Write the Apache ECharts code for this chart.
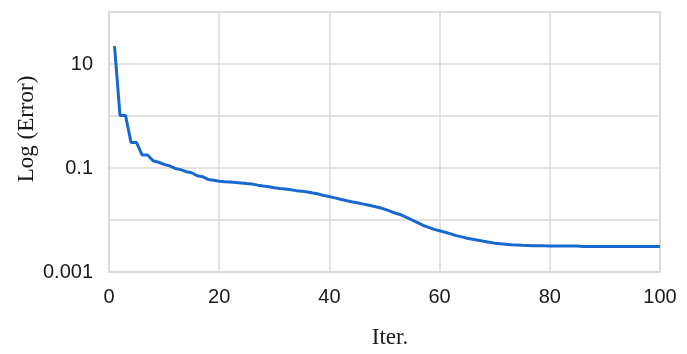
<!DOCTYPE html>
<html>
<head>
<meta charset="utf-8">
<script src="https://cdn.jsdelivr.net/npm/echarts@6/dist/echarts.min.js"></script>
<style>html,body{margin:0;padding:0;background:#fff}#c{width:687px;height:354px}</style>
</head>
<body>
<div id="c"></div>
<script>
// Iteration numbers
const iterations = [1,2,3,4,5,6,7,8,9,10,11,12,13,14,15,16,17,18,19,20,
  21,22,23,24,25,26,27,28,29,30,31,32,33,34,35,36,37,38,39,40,
  41,42,43,44,45,46,47,48,49,50,51,52,53,54,55,56,57,58,59,60,
  61,62,63,64,65,66,67,68,69,70,71,72,73,74,75,76,77,78,79,80,
  81,82,83,84,85,86,87,88,89,90,91,92,93,94,95,96,97,98,99,100];
// Error values (log scale)
const errorValues = [22.1,1.02,1.02,0.309,0.309,0.178,0.178,0.138,0.129,0.117,
  0.110,0.098,0.093,0.085,0.081,0.071,0.068,0.060,0.058,0.0556,
  0.0543,0.0537,0.0525,0.0513,0.0501,0.0490,0.0468,0.0452,0.0437,0.0417,
  0.0403,0.0394,0.0380,0.0367,0.0359,0.0347,0.0331,0.0316,0.0295,0.0282,
  0.0266,0.0251,0.0237,0.0224,0.0214,0.0204,0.0195,0.0184,0.0174,0.0162,
  0.0148,0.0135,0.0126,0.0112,0.0100,0.0089,0.0079,0.0072,0.0066,0.0062,
  0.0058,0.0054,0.0050,0.00473,0.00447,0.00427,0.00407,0.00389,0.00372,0.00359,
  0.00351,0.00343,0.00335,0.00331,0.00327,0.00324,0.00321,0.00320,0.00318,0.00317,
  0.00317,0.00317,0.00317,0.00317,0.00317,0.00310,0.00310,0.00310,0.00310,0.00310,
  0.00310,0.00310,0.00310,0.00310,0.00310,0.00310,0.00310,0.00310,0.00310,0.00310];
const yTickLabels = ['0.001','0.1','10'];
const xTickLabels = ['0','20','40','60','80','100'];

const seriesData = iterations.map((x, i) => [x, errorValues[i]]);
const gridColor = '#d9d9d9';

const chart = echarts.init(document.getElementById('c'));
chart.setOption({
  animation: false,
  grid: { left: 109, right: 27, top: 12, bottom: 77, show: true, borderColor: gridColor, borderWidth: 1.5 },
  xAxis: {
    type: 'value', min: 0, max: 100, interval: 20,
    name: 'Iter.', nameLocation: 'middle', nameGap: 54, nameMoveOverlap: false,
    nameTextStyle: { fontFamily: 'Liberation Serif', fontSize: 23, color: '#1a1a1a', padding: [0,0,0,11] },
    axisLine: { lineStyle: { color: gridColor, width: 1.5 } },
    axisTick: { show: false },
    splitLine: { lineStyle: { color: gridColor, width: 1.5 } },
    axisLabel: { fontFamily: 'Liberation Sans', fontSize: 20, color: '#1a1a1a', margin: 15,
      formatter: v => { const s = String(Math.round(v)); return xTickLabels.includes(s) ? s : ''; } }
  },
  yAxis: {
    type: 'log', logBase: 10, min: 0.001, max: 100,
    name: 'Log (Error)', nameLocation: 'middle', nameGap: 71, nameRotate: 90, nameMoveOverlap: false,
    nameTextStyle: { fontFamily: 'Liberation Serif', fontSize: 23, color: '#1a1a1a', padding: [0,0,0,26] },
    axisLine: { show: true, lineStyle: { color: gridColor, width: 1.5 } },
    axisTick: { show: false },
    splitLine: { lineStyle: { color: gridColor, width: 1.5 } },
    axisLabel: { fontFamily: 'Liberation Sans', fontSize: 20, color: '#1a1a1a', margin: 16,
      formatter: v => {
        const hit = yTickLabels.find(l => Math.abs(Math.log10(parseFloat(l)) - Math.log10(v)) < 1e-6);
        return hit || '';
      } }
  },
  series: [{
    type: 'line', data: seriesData, showSymbol: false, smooth: false,
    lineStyle: { color: '#1769cf', width: 3 }
  }]
});
</script>
</body>
</html>
